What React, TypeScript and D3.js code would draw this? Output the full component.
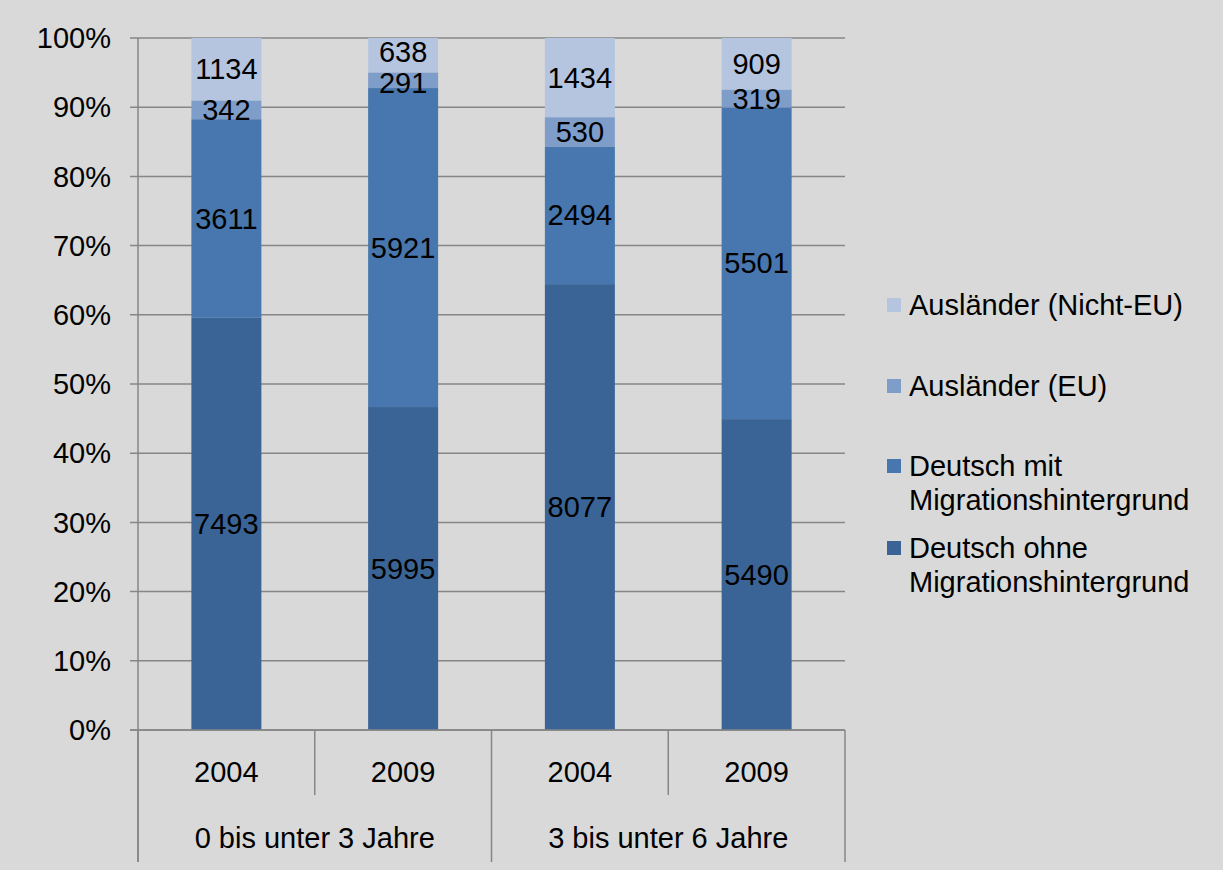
import { useEffect, useRef } from 'react';
import * as d3 from 'd3';

const years = ['2004', '2009', '2004', '2009'];
const groups = ['0 bis unter 3 Jahre', '3 bis unter 6 Jahre'];
const seriesNames = [
  'Deutsch ohne Migrationshintergrund',
  'Deutsch mit Migrationshintergrund',
  'Ausländer (EU)',
  'Ausländer (Nicht-EU)',
];
const ohneMig = [7493, 5995, 8077, 5490];
const mitMig = [3611, 5921, 2494, 5501];
const auslEU = [342, 291, 530, 319];
const auslNichtEU = [1134, 638, 1434, 909];
const colors = ['#3b6496', '#4777ae', '#7f9dc9', '#b5c5df'];
const yTicks = [0, 0.1, 0.2, 0.3, 0.4, 0.5, 0.6, 0.7, 0.8, 0.9, 1];

export default function App() {
  const svgRef = useRef<SVGSVGElement>(null);

  useEffect(() => {
    if (!svgRef.current) return;
    const width = 1223;
    const height = 870;
    const svg = d3.select(svgRef.current);
    svg.selectAll('*').remove();

    const font = '"Liberation Sans", Arial, sans-serif';
    const fs = 29;
    const left = 138;
    const right = 845;
    const top = 38;
    const bottom = 730;

    svg.append('rect').attr('width', width).attr('height', height).attr('fill', '#d9d9d9');

    const x = d3.scaleBand().domain(d3.range(years.length).map(String)).range([left, right]).paddingInner(0).paddingOuter(0);
    const y = d3.scaleLinear().domain([0, 1]).range([bottom, top]);
    const barW = 70;

    // gridlines and y ticks
    svg.append('g').selectAll('line').data(yTicks).enter().append('line')
      .attr('x1', left - 8).attr('x2', right)
      .attr('y1', d => y(d)).attr('y2', d => y(d))
      .attr('stroke', '#868686').attr('stroke-width', 1.5);

    svg.append('g').selectAll('text').data(yTicks).enter().append('text')
      .attr('x', left - 27).attr('y', d => y(d))
      .attr('dy', '0.35em')
      .attr('text-anchor', 'end')
      .attr('font-family', font).attr('font-size', fs)
      .attr('fill', '#000')
      .text(d => `${Math.round(d * 100)}%`);

    const rows = years.map((_, i) => ({
      idx: i,
      vals: [ohneMig[i], mitMig[i], auslEU[i], auslNichtEU[i]],
    }));
    const stack = d3.stack<any>().keys([0, 1, 2, 3] as any).value((d: any, k: any) => d.vals[k]).offset(d3.stackOffsetExpand);
    const stacked = stack(rows);

    stacked.forEach((layer, si) => {
      svg.append('g').attr('class', seriesNames[si]).selectAll('rect').data(layer).enter().append('rect')
        .attr('x', (d: any) => (x(String(d.data.idx)) as number) + x.bandwidth() / 2 - barW / 2)
        .attr('width', barW)
        .attr('y', d => y(d[1]))
        .attr('height', d => y(d[0]) - y(d[1]))
        .attr('fill', colors[si]);
    });

    // data labels; small top segments pushed apart a little like Excel does
    stacked.forEach((layer, si) => {
      svg.append('g').selectAll('text').data(layer).enter().append('text')
        .attr('x', (d: any) => (x(String(d.data.idx)) as number) + x.bandwidth() / 2)
        .attr('y', (d: any) => {
          const c = y((d[0] + d[1]) / 2);
          if (d.data.idx === 1 && si === 3) return c - 3;
          if (d.data.idx === 1 && si === 2) return c + 3;
          return c;
        })
        .attr('dy', '0.35em')
        .attr('text-anchor', 'middle')
        .attr('font-family', font).attr('font-size', fs)
        .attr('fill', '#000')
        .text((d: any) => d.data.vals[si]);
    });

    // axes lines
    svg.append('line').attr('x1', left).attr('x2', left).attr('y1', top).attr('y2', 862)
      .attr('stroke', '#868686').attr('stroke-width', 1.5);
    svg.append('line').attr('x1', left - 8).attr('x2', right).attr('y1', bottom).attr('y2', bottom)
      .attr('stroke', '#868686').attr('stroke-width', 1.5);

    // category separators
    const bounds = d3.range(years.length + 1).map(i => left + i * x.step());
    svg.append('g').selectAll('line').data(bounds).enter().append('line')
      .attr('x1', d => d).attr('x2', d => d)
      .attr('y1', bottom)
      .attr('y2', (_, i) => (i % 2 === 0 ? 862 : 795))
      .attr('stroke', '#868686').attr('stroke-width', 1.5);

    svg.append('g').selectAll('text').data(years).enter().append('text')
      .attr('x', (_, i) => (x(String(i)) as number) + x.bandwidth() / 2)
      .attr('y', 772)
      .attr('dy', '0.35em')
      .attr('text-anchor', 'middle')
      .attr('font-family', font).attr('font-size', fs)
      .text(d => d);

    svg.append('g').selectAll('text').data(groups).enter().append('text')
      .attr('x', (_, i) => left + (i * 2 + 1) * x.step())
      .attr('y', 838)
      .attr('dy', '0.35em')
      .attr('text-anchor', 'middle')
      .attr('font-family', font).attr('font-size', fs)
      .text(d => d);

    // legend
    const legendItems = [
      { c: colors[3], lines: ['Ausländer (Nicht-EU)'], y: 305 },
      { c: colors[2], lines: ['Ausländer (EU)'], y: 386 },
      { c: colors[1], lines: ['Deutsch mit', 'Migrationshintergrund'], y: 466 },
      { c: colors[0], lines: ['Deutsch ohne', 'Migrationshintergrund'], y: 548 },
    ];
    const lg = svg.append('g');
    legendItems.forEach(it => {
      lg.append('rect').attr('x', 887).attr('y', it.y - 7).attr('width', 14).attr('height', 14).attr('fill', it.c);
      it.lines.forEach((t, j) => {
        lg.append('text')
          .attr('x', 909).attr('y', it.y + j * 34)
          .attr('dy', '0.35em')
          .attr('font-family', font).attr('font-size', fs)
          .text(t);
      });
    });
  }, []);

  return (
    <svg ref={svgRef} width={1223} height={870} style={{ position: 'absolute', left: 0, top: 0 }} />
  );
}
